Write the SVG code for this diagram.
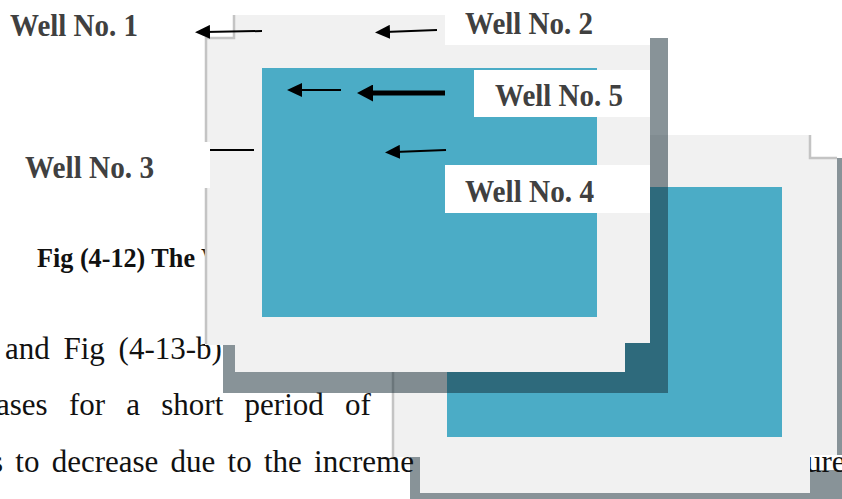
<svg xmlns="http://www.w3.org/2000/svg" width="842" height="499" viewBox="0 0 842 499">
<style>
.body{font-family:"Liberation Serif","Times New Roman",serif;font-size:31px;fill:#111}
.lbl{font-family:"Liberation Serif","Times New Roman",serif;font-size:31px;font-weight:bold;fill:#404040}
.cap{font-family:"Liberation Serif","Times New Roman",serif;font-size:28px;font-weight:bold;fill:#111}
.frame{fill:#f1f1f1}
.teal{fill:#4bacc6}
.shadow{fill:#122832;opacity:.5}
.edge{fill:none;stroke:#c4c4c4;stroke-width:2.5}
.box{fill:#fff}
.arr{stroke:#000;stroke-width:2;fill:none;marker-end:url(#ah)}
.arrb{stroke:#000;stroke-width:5;fill:none;marker-end:url(#ahb)}
.ln{stroke:#000;stroke-width:2;fill:none}
</style>
<defs>
<marker id="ah" markerUnits="userSpaceOnUse" markerWidth="15" markerHeight="14" viewBox="0 0 15 14" refX="5" refY="7" orient="auto">
<path d="M0,0 L15,7 L0,14 Z" fill="#000"/>
</marker>
<marker id="ahb" markerUnits="userSpaceOnUse" markerWidth="16" markerHeight="17" viewBox="0 0 16 17" refX="6" refY="8.5" orient="auto">
<path d="M0,0 L16,8.5 L0,17 Z" fill="#000"/>
</marker>
</defs>
<rect width="842" height="499" fill="#fff"/>

<!-- back window shadow -->
<path class="shadow" d="M837,158 H842 V455 H837 Z M410,457 H420 V493 H810 V470 H842 V499 H410 Z"/>

<!-- body text -->
<text class="body" x="5" y="359" word-spacing="6">and Fig (4-13-b)</text>
<text class="body" x="-4" y="415" word-spacing="13.5">ases for a short period of</text>
<text class="body" x="-9" y="472" word-spacing="4.5" font-size="31.5">s to decrease due to the increme</text>
<text class="body" x="806" y="472">ure</text>
<text class="cap" x="37" y="267" textLength="158" lengthAdjust="spacingAndGlyphs">Fig (4-12) The</text>
<text class="cap" x="201" y="267">W</text>

<!-- back window -->
<g id="window-back">
<path class="frame" d="M392,135 H810 V158 H837 V455 H810 V493 H420 V457 H392 Z"/>
<path class="edge" d="M810,135 V158 H837 M393,135 V457"/>
<rect class="teal" x="447" y="187" width="335" height="250"/>
</g>

<!-- front window -->
<g id="window-front">
<rect class="shadow" x="223" y="38" width="445" height="355"/>
<path class="frame" d="M234,15 H650 V343 H625 V372 H235 V345 H205 V38 H234 Z"/>
<path class="edge" d="M234,15 V38 H206 V344"/>
<rect class="teal" x="262" y="68" width="335" height="249"/>
</g>

<!-- connectors -->
<g id="connectors">
<line class="arr" x1="262" y1="31" x2="205" y2="32"/>
<line class="arr" x1="437" y1="30" x2="385" y2="32"/>
<line class="arr" x1="341" y1="90" x2="297" y2="90"/>
<line class="arrb" x1="445" y1="93" x2="367" y2="93"/>
<line class="arr" x1="446" y1="150" x2="395" y2="152"/>
<line class="ln" x1="205" y1="150" x2="254" y2="150"/>
</g>

<!-- labels -->
<g id="well1">
<text class="lbl" x="10" y="36" textLength="128" lengthAdjust="spacingAndGlyphs">Well No. 1</text>
</g>
<g id="well2">
<rect class="box" x="445" y="0" width="205" height="45"/>
<text class="lbl" x="465" y="34" textLength="128" lengthAdjust="spacingAndGlyphs">Well No. 2</text>
</g>
<g id="well5">
<rect class="box" x="474" y="70" width="176" height="47"/>
<text class="lbl" x="495" y="106" textLength="128" lengthAdjust="spacingAndGlyphs">Well No. 5</text>
</g>
<g id="well4">
<rect class="box" x="445" y="165" width="205" height="48"/>
<text class="lbl" x="465" y="202" textLength="129" lengthAdjust="spacingAndGlyphs">Well No. 4</text>
</g>
<g id="well3">
<rect class="box" x="10" y="142" width="200" height="46"/>
<text class="lbl" x="25" y="178" textLength="129" lengthAdjust="spacingAndGlyphs">Well No. 3</text>
</g>
</svg>
